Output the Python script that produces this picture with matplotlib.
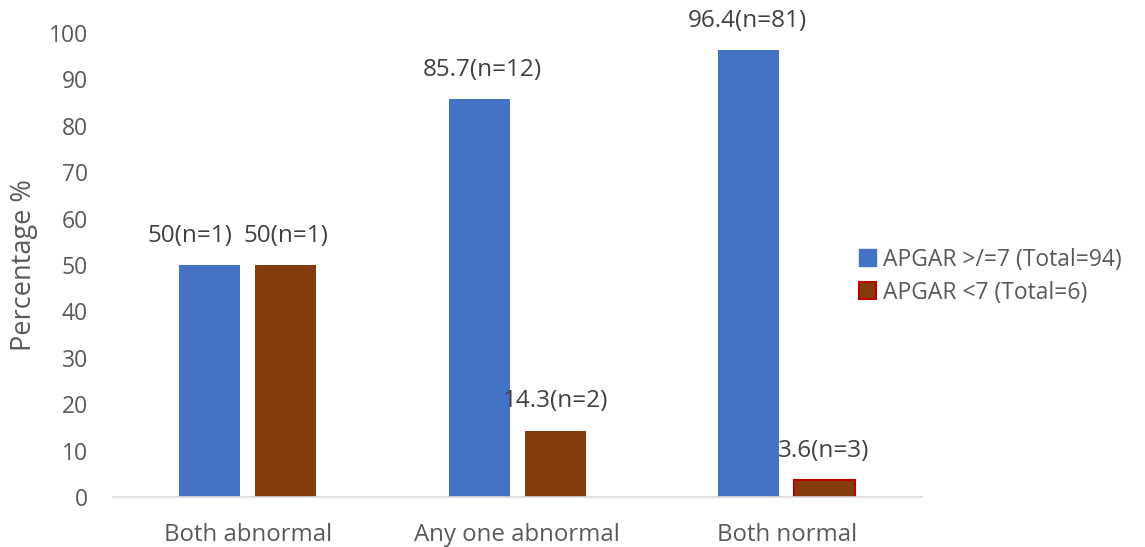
import matplotlib
matplotlib.use("Agg")
import matplotlib.pyplot as plt
import numpy as np
from matplotlib.patches import Patch

categories = ["Both abnormal", "Any one abnormal", "Both normal"]
series_names = ["APGAR >/=7 (Total=94)", "APGAR <7 (Total=6)"]
high_vals = [50, 85.7, 96.4]
low_vals = [50, 14.3, 3.6]
high_labels = ["50(n=1)", "85.7(n=12)", "96.4(n=81)"]
low_labels = ["50(n=1)", "14.3(n=2)", "3.6(n=3)"]
yticks = [0, 10, 20, 30, 40, 50, 60, 70, 80, 90, 100]

plt.rcParams['font.family'] = ['Open Sans', 'DejaVu Sans']
txt = '#595959'

fig = plt.figure(figsize=(11.45, 5.47), dpi=100)
ax = fig.add_axes([0.0987, 0.0914, 0.7063, 0.8483])

x = np.arange(len(categories))
w = 0.226
off = 0.141
b1 = ax.bar(x - off, high_vals, w, color='#4472C4', label=series_names[0])
b2 = ax.bar(x + off, low_vals, w, color='#843C0C', label=series_names[1])
b2[2].set_edgecolor('#C00000')
b2[2].set_linewidth(1.5)

high_dx = [-14, 2, -1]
low_dx = [0, 0, -1]
for rect, lab, dx in zip(b1, high_labels, high_dx):
    ax.annotate(lab, (rect.get_x() + rect.get_width() / 2, rect.get_height()),
                xytext=(dx, 21), textcoords='offset points', ha='center', va='center',
                fontsize=17.5, color='#404040')
for rect, lab, dx in zip(b2, low_labels, low_dx):
    ax.annotate(lab, (rect.get_x() + rect.get_width() / 2, rect.get_height()),
                xytext=(dx, 21), textcoords='offset points', ha='center', va='center',
                fontsize=17.5, color='#404040')

ax.set_xlim(-0.5, 2.5)
ax.set_ylim(0, 100)
ax.set_yticks(yticks)
ax.set_xticks(x)
ax.set_xticklabels(categories)
ax.tick_params(axis='both', length=0, labelsize=16.5, colors=txt)
ax.tick_params(axis='x', labelsize=17.3, pad=19)
ax.tick_params(axis='y', pad=18)
for s in ['top', 'right', 'left']:
    ax.spines[s].set_visible(False)
ax.spines['bottom'].set_color('#D9D9D9')
ax.spines['bottom'].set_linewidth(1.2)
ax.set_ylabel('Percentage %', fontsize=19.5, color=txt, labelpad=8)

handles = [Patch(facecolor='#4472C4', edgecolor='#4472C4'),
           Patch(facecolor='#843C0C', edgecolor='#C00000', linewidth=1.5)]
leg = fig.legend(handles, series_names, loc='center left', bbox_to_anchor=(0.732, 0.495),
                 frameon=False, fontsize=16.5, handlelength=0.75, handleheight=0.75,
                 handletextpad=0.3, labelspacing=0.4, labelcolor=txt)

fig.savefig('out.png', dpi=100)
